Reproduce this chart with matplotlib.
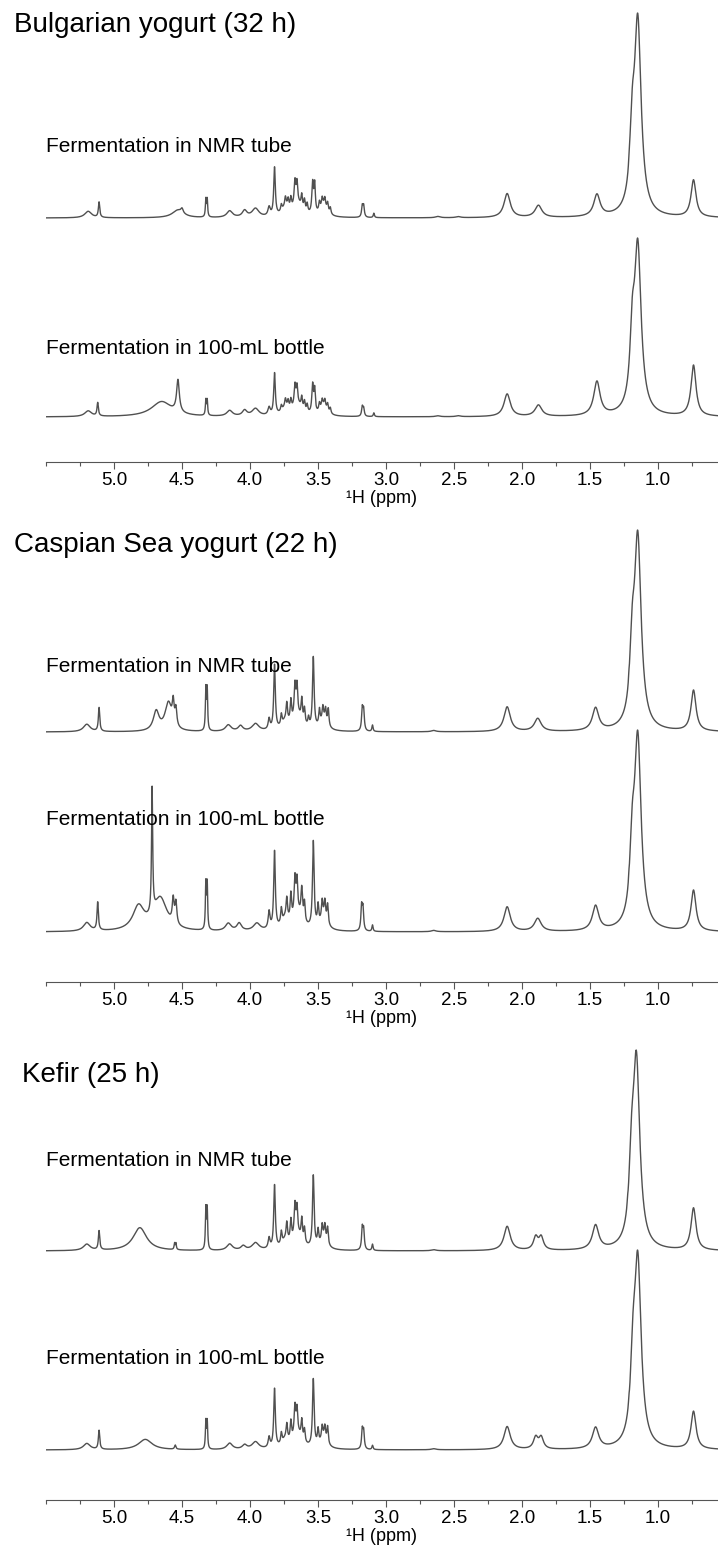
import numpy as np
import matplotlib
matplotlib.use("Agg")
import matplotlib.pyplot as plt
from matplotlib.ticker import MultipleLocator

plt.rcParams['font.family'] = ['Liberation Sans', 'DejaVu Sans']

# panel titles and trace labels
titles = ['Bulgarian yogurt (32 h)', 'Caspian Sea yogurt (22 h)', 'Kefir (25 h)']
label_top = 'Fermentation in NMR tube'
label_bottom = 'Fermentation in 100-mL bottle'
xlabel = '\u00b9H (ppm)'
tick_ppm = [5.0, 4.5, 4.0, 3.5, 3.0, 2.5, 2.0, 1.5, 1.0]

# peak lists: position (ppm), relative height, half width (ppm)
# the sugar region 3.4-3.9 ppm is a crowd of lines on a few broader humps
bulg_tube_ppm = [5.19, 5.11, 4.53, 4.50, 4.325, 4.315, 4.15, 4.04, 3.96, 3.86, 3.82, 3.77, 3.74, 3.72, 3.70,
                 3.67, 3.655, 3.62, 3.60, 3.58, 3.54, 3.525, 3.49, 3.47, 3.45, 3.43, 3.41,
                 3.74, 3.65, 3.46, 3.175, 3.165, 3.09, 2.62, 2.47, 2.11, 1.88,
                 1.45, 1.215, 1.205, 1.19, 1.15, 0.74]
bulg_tube_h = [0.03, 0.07, 0.035, 0.02, 0.08, 0.08, 0.03, 0.03, 0.04, 0.04, 0.22, 0.03, 0.04, 0.04, 0.05,
               0.11, 0.09, 0.06, 0.05, 0.04, 0.14, 0.13, 0.04, 0.04, 0.04, 0.04, 0.03,
               0.04, 0.06, 0.05, 0.05, 0.05, 0.02, 0.006, 0.005, 0.11, 0.055,
               0.10, 0.02, 0.02, 0.28, 0.88, 0.17]
bulg_tube_w = [0.03, 0.006, 0.05, 0.01, 0.004, 0.004, 0.025, 0.02, 0.03, 0.01, 0.007, 0.006, 0.006, 0.006, 0.006,
               0.007, 0.006, 0.006, 0.006, 0.006, 0.007, 0.006, 0.006, 0.006, 0.006, 0.006, 0.006,
               0.03, 0.04, 0.03, 0.006, 0.006, 0.005, 0.02, 0.02, 0.028, 0.03,
               0.028, 0.003, 0.003, 0.02, 0.03, 0.022]

bulg_bottle_ppm = [5.19, 5.12, 4.65, 4.53, 4.325, 4.315, 4.15, 4.04, 3.96, 3.86, 3.82, 3.77, 3.74, 3.72, 3.70,
                   3.67, 3.655, 3.62, 3.60, 3.58, 3.54, 3.525, 3.49, 3.47, 3.45, 3.43, 3.41,
                   3.74, 3.65, 3.46, 3.175, 3.165, 3.09, 2.62, 2.47, 2.11, 1.88,
                   1.45, 1.19, 1.15, 0.74]
bulg_bottle_h = [0.03, 0.07, 0.08, 0.17, 0.08, 0.08, 0.03, 0.03, 0.04, 0.04, 0.22, 0.03, 0.04, 0.04, 0.05,
                 0.11, 0.09, 0.06, 0.05, 0.04, 0.15, 0.12, 0.04, 0.04, 0.04, 0.04, 0.03,
                 0.04, 0.06, 0.05, 0.05, 0.04, 0.02, 0.005, 0.005, 0.12, 0.06,
                 0.18, 0.32, 0.88, 0.27]
bulg_bottle_w = [0.03, 0.006, 0.09, 0.012, 0.004, 0.004, 0.025, 0.02, 0.03, 0.01, 0.007, 0.006, 0.006, 0.006, 0.006,
                 0.007, 0.006, 0.006, 0.006, 0.006, 0.007, 0.006, 0.006, 0.006, 0.006, 0.006, 0.006,
                 0.03, 0.04, 0.03, 0.006, 0.006, 0.005, 0.02, 0.02, 0.028, 0.03,
                 0.028, 0.02, 0.03, 0.022]

casp_tube_ppm = [5.20, 5.11, 4.69, 4.60, 4.565, 4.545, 4.325, 4.315, 4.16, 4.07, 3.96, 3.86, 3.82, 3.77, 3.73,
                 3.70, 3.67, 3.655, 3.62, 3.60, 3.57, 3.535, 3.49, 3.465, 3.445, 3.425,
                 3.74, 3.65, 3.46, 3.175, 3.165, 3.10, 2.65,
                 2.11, 1.885, 1.46, 1.215, 1.205, 1.19, 1.15, 0.74]
casp_tube_h = [0.035, 0.11, 0.09, 0.13, 0.10, 0.08, 0.19, 0.19, 0.03, 0.025, 0.035, 0.05, 0.30, 0.05, 0.08,
               0.10, 0.15, 0.13, 0.10, 0.07, 0.04, 0.33, 0.07, 0.06, 0.06, 0.08,
               0.04, 0.07, 0.05, 0.10, 0.09, 0.03, 0.006,
               0.115, 0.06, 0.105, 0.02, 0.02, 0.28, 0.88, 0.19]
casp_tube_w = [0.03, 0.006, 0.025, 0.03, 0.008, 0.008, 0.004, 0.004, 0.025, 0.02, 0.03, 0.008, 0.007, 0.006, 0.006,
               0.006, 0.007, 0.006, 0.006, 0.006, 0.006, 0.007, 0.006, 0.006, 0.006, 0.006,
               0.03, 0.04, 0.03, 0.006, 0.006, 0.005, 0.02,
               0.028, 0.03, 0.028, 0.003, 0.003, 0.02, 0.03, 0.022]

casp_bottle_ppm = [5.20, 5.12, 4.82, 4.72, 4.66, 4.565, 4.545, 4.325, 4.315, 4.16, 4.08, 3.95, 3.86, 3.82, 3.77,
                   3.73, 3.70, 3.67, 3.655, 3.62, 3.60, 3.535, 3.50, 3.47, 3.45, 3.43,
                   3.74, 3.65, 3.46, 3.18, 3.17, 3.10, 2.65,
                   2.11, 1.885, 1.46, 1.215, 1.205, 1.19, 1.15, 0.74]
casp_bottle_h = [0.04, 0.13, 0.11, 0.58, 0.15, 0.11, 0.10, 0.21, 0.21, 0.035, 0.035, 0.035, 0.08, 0.36, 0.07,
                 0.09, 0.12, 0.17, 0.14, 0.14, 0.09, 0.40, 0.09, 0.08, 0.08, 0.09,
                 0.05, 0.08, 0.06, 0.11, 0.10, 0.03, 0.006,
                 0.115, 0.06, 0.115, 0.02, 0.02, 0.28, 0.88, 0.19]
casp_bottle_w = [0.03, 0.006, 0.05, 0.005, 0.06, 0.008, 0.008, 0.004, 0.004, 0.025, 0.02, 0.03, 0.008, 0.007, 0.006,
                 0.006, 0.006, 0.007, 0.006, 0.007, 0.006, 0.007, 0.006, 0.006, 0.006, 0.006,
                 0.03, 0.04, 0.03, 0.006, 0.006, 0.005, 0.02,
                 0.028, 0.03, 0.028, 0.003, 0.003, 0.02, 0.03, 0.022]

kefir_tube_ppm = [5.20, 5.11, 4.81, 4.555, 4.545, 4.325, 4.315, 4.15, 4.05, 3.96, 3.86, 3.82, 3.77, 3.73, 3.70,
                  3.67, 3.655, 3.62, 3.60, 3.535, 3.50, 3.47, 3.45, 3.43,
                  3.74, 3.65, 3.46, 3.175, 3.165, 3.10, 2.65,
                  2.11, 1.90, 1.86, 1.46, 1.225, 1.21, 1.195, 1.16, 0.74]
kefir_tube_h = [0.03, 0.09, 0.11, 0.03, 0.03, 0.19, 0.19, 0.03, 0.02, 0.035, 0.05, 0.30, 0.06, 0.08, 0.10,
                0.15, 0.12, 0.10, 0.07, 0.34, 0.07, 0.07, 0.07, 0.08,
                0.04, 0.07, 0.05, 0.10, 0.09, 0.03, 0.005,
                0.115, 0.06, 0.06, 0.115, 0.02, 0.02, 0.28, 0.88, 0.2]
kefir_tube_w = [0.03, 0.006, 0.06, 0.004, 0.004, 0.004, 0.004, 0.025, 0.02, 0.03, 0.008, 0.007, 0.006, 0.006, 0.006,
                0.007, 0.006, 0.006, 0.006, 0.007, 0.006, 0.006, 0.006, 0.006,
                0.03, 0.04, 0.03, 0.006, 0.006, 0.005, 0.02,
                0.028, 0.02, 0.02, 0.028, 0.003, 0.003, 0.02, 0.03, 0.022]

kefir_bottle_ppm = [5.20, 5.11, 4.77, 4.55, 4.325, 4.315, 4.15, 4.04, 3.96, 3.86, 3.82, 3.77, 3.73, 3.70,
                    3.67, 3.655, 3.62, 3.60, 3.535, 3.50, 3.47, 3.45, 3.43,
                    3.74, 3.65, 3.46, 3.175, 3.165, 3.10, 2.65,
                    2.11, 1.90, 1.86, 1.46, 1.215, 1.20, 1.185, 1.15, 0.74]
kefir_bottle_h = [0.03, 0.09, 0.05, 0.02, 0.13, 0.13, 0.03, 0.02, 0.035, 0.05, 0.28, 0.05, 0.07, 0.09,
                  0.14, 0.11, 0.09, 0.06, 0.32, 0.07, 0.06, 0.06, 0.08,
                  0.04, 0.07, 0.05, 0.09, 0.08, 0.02, 0.005,
                  0.11, 0.055, 0.055, 0.10, 0.02, 0.02, 0.28, 0.88, 0.18]
kefir_bottle_w = [0.03, 0.006, 0.06, 0.006, 0.004, 0.004, 0.025, 0.02, 0.03, 0.008, 0.007, 0.006, 0.006, 0.006,
                  0.007, 0.006, 0.006, 0.006, 0.007, 0.006, 0.006, 0.006, 0.006,
                  0.03, 0.04, 0.03, 0.006, 0.006, 0.005, 0.02,
                  0.028, 0.02, 0.02, 0.028, 0.003, 0.003, 0.02, 0.03, 0.022]

spectra = [
    ((bulg_tube_ppm, bulg_tube_h, bulg_tube_w), (bulg_bottle_ppm, bulg_bottle_h, bulg_bottle_w)),
    ((casp_tube_ppm, casp_tube_h, casp_tube_w), (casp_bottle_ppm, casp_bottle_h, casp_bottle_w)),
    ((kefir_tube_ppm, kefir_tube_h, kefir_tube_w), (kefir_bottle_ppm, kefir_bottle_h, kefir_bottle_w)),
]

W, H = 718, 1549
fig = plt.figure(figsize=(W / 100, H / 100), dpi=100)

x = np.linspace(5.5, 0.56, 8000)


def lorentz_sum(ppm, h, w):
    y = np.zeros_like(x)
    for p, a, g in zip(ppm, h, w):
        y += a * g ** 2 / ((x - p) ** 2 + g ** 2)
    return y / y.max()


# layout in pixels (panel offset, baselines above the axis line, peak height)
panel_top = [0, 520, 1038]
base_top = [244, 250, 249]
scale_top = [205, 202, 201]
base_bot = [45, 50, 50]
scale_bot = [179, 202, 200]
title_xy = [(14, 25), (14, 25), (22, 37)]
lab_top_y = [147, 147, 122]
lab_bot_y = [348, 300, 320]

for i in range(3):
    y0 = panel_top[i]
    ax = fig.add_axes([46 / W, 1 - (y0 + 462) / H, 672 / W, 457 / H])
    top, bot = spectra[i]
    ax.plot(x, base_top[i] + scale_top[i] * lorentz_sum(*top), color='#505050', lw=1.0)
    ax.plot(x, base_bot[i] + scale_bot[i] * lorentz_sum(*bot), color='#505050', lw=1.0)
    ax.set_xlim(5.5, 0.56)
    ax.set_ylim(0, 457)
    for s in ['left', 'right', 'top']:
        ax.spines[s].set_visible(False)
    ax.spines['bottom'].set_color('#555555')
    ax.set_yticks([])
    ax.set_xticks(tick_ppm)
    ax.set_xticklabels(['%.1f' % t for t in tick_ppm])
    ax.xaxis.set_minor_locator(MultipleLocator(0.25))
    ax.tick_params(axis='x', which='major', direction='out', length=5, width=0.8,
                   color='#555555', labelsize=13.5, pad=2)
    ax.tick_params(axis='x', which='minor', direction='out', length=3, width=0.8, color='#555555')
    ax.set_xlabel(xlabel, fontsize=13, labelpad=1)
    ax.patch.set_alpha(0)

    fig.text(title_xy[i][0] / W, 1 - (y0 + title_xy[i][1]) / H, titles[i], fontsize=20, va='center', ha='left')
    fig.text(46 / W, 1 - (y0 + lab_top_y[i]) / H, label_top, fontsize=15, va='center', ha='left')
    fig.text(46 / W, 1 - (y0 + lab_bot_y[i]) / H, label_bottom, fontsize=15, va='center', ha='left')

fig.savefig('out.png', dpi=100)
